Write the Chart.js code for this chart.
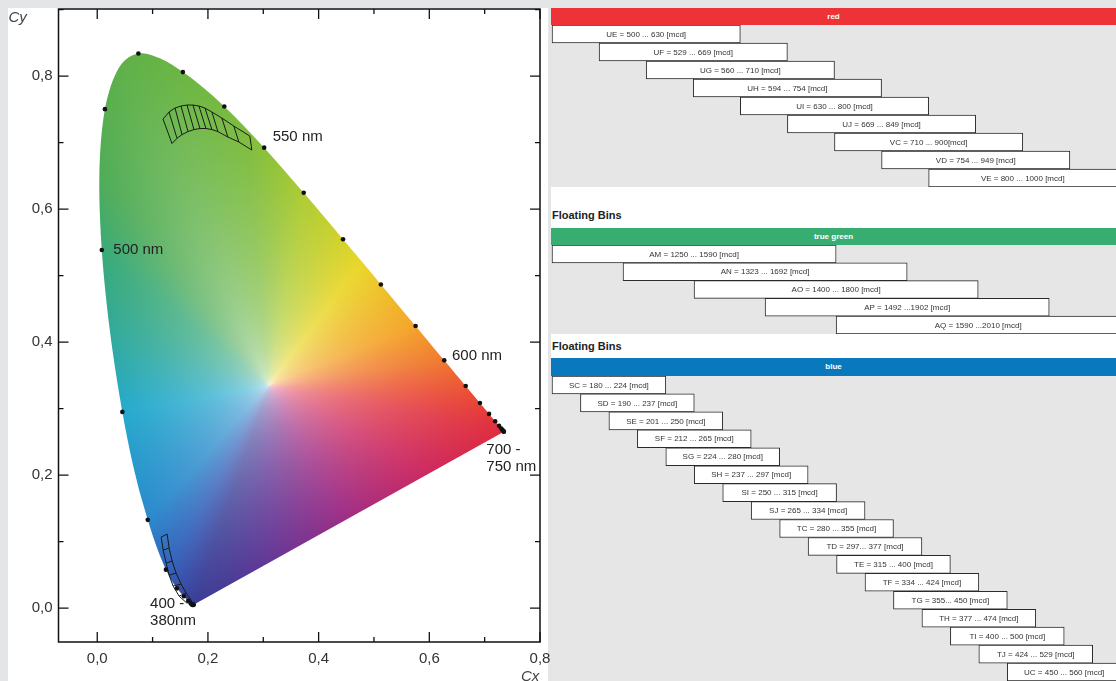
<!DOCTYPE html>
<html>
<head>
<meta charset="utf-8">
<script src="https://cdn.jsdelivr.net/npm/chart.js@4.4.0/dist/chart.umd.min.js"></script>
<style>
  html, body { margin:0; padding:0; }
  body { width:1116px; height:681px; background:#e4e5e7; position:relative; overflow:hidden;
         font-family:"Liberation Sans", Arial, sans-serif; }
  #leftPanel { position:absolute; left:8px; top:8px; width:540px; height:673px; background:#fff; }
  #cieBox { position:absolute; left:0; top:0; width:556px; height:681px; }
  #rightPanel { position:absolute; left:551px; top:8px; width:565px; height:673px; background:#fff; }
  .hdr { position:absolute; left:551px; width:565px; color:#fff; font-weight:bold; font-size:8px; text-align:center; }
  .ttl { position:absolute; left:552px; font-weight:bold; font-size:11px; color:#222; }
  .bins { position:absolute; left:551px; width:565px; }
</style>
</head>
<body>
<div id="leftPanel"></div>
<div id="cieBox"><canvas id="cie"></canvas></div>
<div id="rightPanel"></div>

<div class="hdr" style="top:8px;height:17px;line-height:17px;background:#ee3338;">red</div>
<div class="bins" style="top:25px;height:162px;"><canvas id="redBins"></canvas></div>

<div class="ttl" style="top:209px;">Floating Bins</div>
<div class="hdr" style="top:228px;height:17px;line-height:17px;background:#38ad72;">true green</div>
<div class="bins" style="top:245px;height:89px;"><canvas id="greenBins"></canvas></div>

<div class="ttl" style="top:340px;">Floating Bins</div>
<div class="hdr" style="top:358px;height:18px;line-height:18px;background:#0a78bd;">blue</div>
<div class="bins" style="top:376px;height:305px;"><canvas id="blueBins"></canvas></div>

<script>
// ---- spectral locus (horseshoe edge), 5 nm steps, 380 .. 700 nm
var wavelengths = [380,385,390,395,400,405,410,415,420,425,430,435,440,445,450,455,460,465,470,475,
                   480,485,490,495,500,505,510,515,520,525,530,535,540,545,550,555,560,565,570,575,
                   580,585,590,595,600,605,610,615,620,625,630,635,640,645,650,655,660,665,670,675,
                   680,685,690,695,700];
var locusX = [0.1741,0.1740,0.1738,0.1736,0.1733,0.1730,0.1726,0.1721,0.1714,0.1703,0.1689,0.1669,0.1644,0.1611,0.1566,0.1510,0.1440,0.1355,0.1241,0.1096,
              0.0913,0.0687,0.0454,0.0235,0.0082,0.0039,0.0139,0.0389,0.0743,0.1142,0.1547,0.1929,0.2296,0.2658,0.3016,0.3373,0.3731,0.4087,0.4441,0.4788,
              0.5125,0.5448,0.5752,0.6029,0.6270,0.6482,0.6658,0.6801,0.6915,0.7006,0.7079,0.7140,0.7190,0.7230,0.7260,0.7283,0.7300,0.7311,0.7320,0.7327,
              0.7334,0.7340,0.7344,0.7346,0.7347];
var locusY = [0.0050,0.0050,0.0049,0.0049,0.0048,0.0048,0.0048,0.0048,0.0051,0.0058,0.0069,0.0086,0.0109,0.0138,0.0177,0.0227,0.0297,0.0399,0.0578,0.0868,
              0.1327,0.2007,0.2950,0.4127,0.5384,0.6548,0.7502,0.8120,0.8338,0.8262,0.8059,0.7816,0.7543,0.7243,0.6923,0.6589,0.6245,0.5896,0.5547,0.5202,
              0.4866,0.4544,0.4242,0.3965,0.3725,0.3514,0.3340,0.3197,0.3083,0.2993,0.2920,0.2859,0.2809,0.2770,0.2740,0.2717,0.2700,0.2689,0.2680,0.2673,
              0.2666,0.2660,0.2656,0.2654,0.2653];

// hatched colour bin region, true green (upper and lower edge)
var greenTopX = [0.1189,0.1297,0.1405,0.1514,0.1622,0.1730,0.1838,0.1946,0.2072,0.2252,0.2468,0.2757];
var greenTopY = [0.7353,0.7459,0.7519,0.7549,0.7564,0.7564,0.7549,0.7519,0.7459,0.7368,0.7248,0.7098];
var greenBotX = [0.1351,0.1441,0.1532,0.1640,0.1748,0.1856,0.1964,0.2072,0.2180,0.2360,0.2559,0.2793];
var greenBotY = [0.6985,0.7063,0.7120,0.7165,0.7195,0.7211,0.7211,0.7195,0.7165,0.7083,0.7008,0.6887];

// hatched colour bin region, blue (outer and inner edge)
var blueOutX = [0.1155,0.1191,0.1245,0.1299,0.1371,0.1479,0.1620];
var blueOutY = [0.1068,0.0872,0.0677,0.0496,0.0331,0.0180,0.0075];
var blueInX  = [0.1263,0.1299,0.1353,0.1425,0.1515,0.1606,0.1710];
var blueInY  = [0.1113,0.0902,0.0707,0.0526,0.0361,0.0226,0.0105];

// wavelength captions on the diagram
var noteText = ["550 nm", "500 nm", "600 nm", "700 -", "750 nm", "400 -", "380nm"];
var noteX    = [0.317, 0.029, 0.641, 0.703, 0.703, 0.0955, 0.0955];
var noteY    = [0.708, 0.538, 0.380, 0.238, 0.212, 0.006, -0.0195];

// ---- floating bins
var redSteps = [500,529,560,594,630,669,710,754,800,849,900,949,1000];
var redLabels = ["UE = 500 ... 630 [mcd]","UF = 529 ... 669 [mcd]","UG = 560 ... 710 [mcd]","UH = 594 ... 754 [mcd]",
                 "UI = 630 ... 800 [mcd]","UJ = 669 ... 849 [mcd]","VC = 710 ... 900[mcd]","VD = 754 ... 949 [mcd]","VE = 800 ... 1000 [mcd]"];
var redLo = [500,529,560,594,630,669,710,754,800];
var redHi = [630,669,710,754,800,849,900,949,1000];

var greenSteps = [1250,1323,1400,1492,1590,1692,1800,1902,2010];
var greenLabels = ["AM = 1250 ... 1590 [mcd]","AN = 1323 ... 1692 [mcd]","AO = 1400 ... 1800 [mcd]",
                   "AP = 1492 ...1902 [mcd]","AQ = 1590 ...2010 [mcd]"];
var greenLo = [1250,1323,1400,1492,1590];
var greenHi = [1590,1692,1800,1902,2010];

var blueSteps = [180,190,201,212,224,237,250,265,280,297,315,334,355,377,400,424,450,474,500,529,560];
var blueLabels = ["SC = 180 ... 224 [mcd]","SD = 190 ... 237 [mcd]","SE = 201 ... 250 [mcd]","SF = 212 ... 265 [mcd]",
                  "SG = 224 ... 280 [mcd]","SH = 237 ... 297 [mcd]","SI = 250 ... 315 [mcd]","SJ = 265 ... 334 [mcd]",
                  "TC = 280 ... 355 [mcd]","TD = 297... 377 [mcd]","TE = 315 ... 400 [mcd]","TF = 334 ... 424 [mcd]",
                  "TG = 355... 450 [mcd]","TH = 377 ... 474 [mcd]","TI = 400 ... 500 [mcd]","TJ = 424 ... 529 [mcd]",
                  "UC = 450 ... 560 [mcd]"];
var blueLo = [180,190,201,212,224,237,250,265,280,297,315,334,355,377,400,424,450];
var blueHi = [224,237,250,265,280,297,315,334,355,377,400,424,450,474,500,529,560];

Chart.defaults.font.family = "'Liberation Sans', Arial, sans-serif";
Chart.defaults.color = '#333';

// colours along the edge used to paint the horseshoe (x, y, rgb)
var whitePoint = [0.31, 0.335];
var tint = [
  [0.7347,0.2653,[222,45,62]], [0.6915,0.3083,[232,68,55]], [0.6270,0.3725,[240,122,48]],
  [0.5752,0.4242,[244,165,42]], [0.4788,0.5202,[234,214,42]], [0.3731,0.6245,[175,204,52]],
  [0.2658,0.7243,[125,188,62]], [0.0743,0.8338,[98,178,70]], [0.0039,0.6548,[80,172,88]],
  [0.0082,0.5384,[58,170,120]], [0.0454,0.2950,[38,170,205]], [0.0913,0.1327,[42,138,204]],
  [0.1241,0.0578,[50,100,188]], [0.1566,0.0177,[56,72,164]], [0.1733,0.0048,[58,62,150]],
  [0.303,0.065,[98,56,150]], [0.454,0.135,[160,46,134]], [0.606,0.205,[205,42,96]]
];

// pixel path of the horseshoe, smoothed along the spectral edge
function locusPath(ctx, poly) {
  var n = poly.length;
  ctx.moveTo(poly[0][0], poly[0][1]);
  for (var i = 0; i < n - 1; i++) {
    var p0 = poly[Math.max(i - 1, 0)], p1 = poly[i], p2 = poly[i + 1], p3 = poly[Math.min(i + 2, n - 1)];
    ctx.bezierCurveTo(p1[0] + (p2[0] - p0[0]) / 6, p1[1] + (p2[1] - p0[1]) / 6,
                      p2[0] - (p3[0] - p1[0]) / 6, p2[1] - (p3[1] - p1[1]) / 6, p2[0], p2[1]);
  }
  ctx.closePath();
}

var cieFill = {
  id: 'cieFill',
  beforeDatasetsDraw: function(chart) {
    var xs = chart.scales.x, ys = chart.scales.y, a = chart.chartArea, ctx = chart.ctx;
    var poly = locusX.map(function(v, i) { return [xs.getPixelForValue(v), ys.getPixelForValue(locusY[i])]; });
    var w = [xs.getPixelForValue(whitePoint[0]), ys.getPixelForValue(whitePoint[1])];
    var N = 2048, PI2 = Math.PI * 2;
    var R = new Float32Array(N), C = [];
    var anchors = tint.map(function(t) {
      var px = xs.getPixelForValue(t[0]), py = ys.getPixelForValue(t[1]);
      return { ang: Math.atan2(py - w[1], px - w[0]), c: t[2] };
    }).sort(function(p, q) { return p.ang - q.ang; });
    var n = poly.length;
    for (var k = 0; k < N; k++) {
      var ang = -Math.PI + (k + 0.5) / N * PI2;
      var dx = Math.cos(ang), dy = Math.sin(ang), best = 1e9;
      for (var i = 0; i < n; i++) {
        var p1 = poly[i], p2 = poly[(i + 1) % n];
        var ex = p2[0] - p1[0], ey = p2[1] - p1[1];
        var den = dx * ey - dy * ex;
        if (Math.abs(den) < 1e-9) continue;
        var qx = p1[0] - w[0], qy = p1[1] - w[1];
        var t = (qx * ey - qy * ex) / den, u = (qx * dy - qy * dx) / den;
        if (t > 0 && u >= 0 && u <= 1 && t < best) best = t;
      }
      R[k] = best;
      var j = 0;
      while (j < anchors.length && anchors[j].ang < ang) j++;
      var nx = anchors[j % anchors.length], pv = anchors[(j - 1 + anchors.length) % anchors.length];
      var span = (nx.ang - pv.ang + PI2) % PI2, d = (ang - pv.ang + PI2) % PI2;
      var f = span > 0 ? d / span : 0;
      C.push([pv.c[0] + (nx.c[0] - pv.c[0]) * f, pv.c[1] + (nx.c[1] - pv.c[1]) * f, pv.c[2] + (nx.c[2] - pv.c[2]) * f]);
    }
    var W = Math.ceil(a.right - a.left), H = Math.ceil(a.bottom - a.top);
    var off = document.createElement('canvas'); off.width = W; off.height = H;
    var octx = off.getContext('2d'), img = octx.createImageData(W, H), px = img.data;
    for (var y = 0; y < H; y++) {
      for (var x = 0; x < W; x++) {
        var X = a.left + x + 0.5 - w[0], Y = a.top + y + 0.5 - w[1];
        var kk = Math.floor((Math.atan2(Y, X) + Math.PI) / PI2 * N);
        if (kk >= N) kk = N - 1; if (kk < 0) kk = 0;
        var s = Math.sqrt(X * X + Y * Y) / R[kk]; if (s > 1) s = 1;
        var g = Math.pow(s, 0.32), c = C[kk], o = (y * W + x) * 4;
        px[o] = 255 + (c[0] - 255) * g; px[o + 1] = 255 + (c[1] - 255) * g; px[o + 2] = 255 + (c[2] - 255) * g; px[o + 3] = 255;
      }
    }
    octx.putImageData(img, 0, 0);
    ctx.save();
    ctx.beginPath();
    locusPath(ctx, poly);
    ctx.clip();
    ctx.drawImage(off, a.left, a.top);
    ctx.restore();
  }
};

// frame with inward ticks on all four sides, captions
var cieFrame = {
  id: 'cieFrame',
  afterDraw: function(chart) {
    var a = chart.chartArea, ctx = chart.ctx, xs = chart.scales.x, ys = chart.scales.y;
    ctx.save();
    ctx.strokeStyle = '#111';
    ctx.lineWidth = 1.5;
    ctx.strokeRect(a.left, a.top, a.right - a.left, a.bottom - a.top);
    ctx.lineWidth = 1.3;
    ctx.beginPath();
    xs.ticks.forEach(function(t) {
      var p = xs.getPixelForValue(t.value), len = t.label ? 10 : 5;
      ctx.moveTo(p, a.bottom); ctx.lineTo(p, a.bottom - len);
      ctx.moveTo(p, a.top); ctx.lineTo(p, a.top + len);
    });
    ys.ticks.forEach(function(t) {
      var p = ys.getPixelForValue(t.value), len = t.label ? 10 : 5;
      ctx.moveTo(a.left, p); ctx.lineTo(a.left + len, p);
      ctx.moveTo(a.right, p); ctx.lineTo(a.right - len, p);
    });
    ctx.stroke();

    ctx.fillStyle = '#222';
    ctx.font = "15px 'Liberation Sans', Arial, sans-serif";
    ctx.textAlign = 'left';
    ctx.textBaseline = 'middle';
    noteText.forEach(function(txt, i) {
      ctx.fillText(txt, xs.getPixelForValue(noteX[i]), ys.getPixelForValue(noteY[i]));
    });
    ctx.font = "italic 15px 'Liberation Sans', Arial, sans-serif";
    ctx.fillStyle = '#444';
    ctx.fillText('Cy', a.left - 50, a.top + 9);
    ctx.fillText('Cx', a.right - 19, a.bottom + 35);
    ctx.restore();
  }
};

function commaTick(v) {
  return Math.round(v * 10) % 2 === 0 ? v.toFixed(1).replace('.', ',') : '';
}

var dotX = [], dotY = [];
wavelengths.forEach(function(wl, i) {
  if (wl % 10 === 0) { dotX.push(locusX[i]); dotY.push(locusY[i]); }
});

function pts(xa, ya) { return xa.map(function(v, i) { return { x: v, y: ya[i] }; }); }
function lineSet(data) {
  return { data: data, showLine: true, fill: false, borderColor: '#1a1a1a', borderWidth: 1, pointRadius: 0, tension: 0 };
}

var cieSets = [
  { data: pts(dotX, dotY), pointRadius: 2.3, pointBackgroundColor: '#111', pointBorderWidth: 0, showLine: false },
  lineSet(pts(greenTopX, greenTopY)),
  lineSet(pts(greenBotX, greenBotY)),
  lineSet(pts(blueOutX, blueOutY)),
  lineSet(pts(blueInX, blueInY))
];
greenTopX.forEach(function(v, i) {
  cieSets.push(lineSet([{ x: v, y: greenTopY[i] }, { x: greenBotX[i], y: greenBotY[i] }]));
});
blueOutX.forEach(function(v, i) {
  cieSets.push(lineSet([{ x: v, y: blueOutY[i] }, { x: blueInX[i], y: blueInY[i] }]));
});

new Chart(document.getElementById('cie'), {
  type: 'scatter',
  data: { datasets: cieSets },
  options: {
    responsive: true, maintainAspectRatio: false, animation: false,
    layout: { padding: { top: 9, right: 16, left: 0, bottom: 0 } },
    scales: {
      x: {
        type: 'linear', min: -0.07, max: 0.8,
        afterFit: function(s) { s.height = 39; s.paddingLeft = 0; s.paddingRight = 0; },
        grid: { display: false, drawTicks: false }, border: { display: false },
        ticks: { stepSize: 0.1, includeBounds: false, autoSkip: false, maxRotation: 0, padding: 8,
                 color: '#333', font: { size: 15 }, callback: commaTick }
      },
      y: {
        type: 'linear', min: -0.051, max: 0.9008,
        afterFit: function(s) { s.width = 58.5; s.paddingTop = 0; s.paddingBottom = 0; },
        grid: { display: false, drawTicks: false }, border: { display: false },
        ticks: { stepSize: 0.1, includeBounds: false, autoSkip: false, padding: 6,
                 color: '#333', font: { size: 15 }, callback: commaTick }
      }
    },
    plugins: { legend: { display: false }, tooltip: { enabled: false } }
  },
  plugins: [cieFill, cieFrame]
});

// ---- bin tables
var binBg = {
  id: 'binBg',
  beforeDraw: function(chart) {
    var a = chart.chartArea, ctx = chart.ctx;
    ctx.save(); ctx.fillStyle = '#e6e6e6';
    ctx.fillRect(a.left, a.top, a.right - a.left, a.bottom - a.top);
    ctx.restore();
  }
};
var binText = {
  id: 'binText',
  afterDatasetsDraw: function(chart) {
    var ctx = chart.ctx, meta = chart.getDatasetMeta(0);
    ctx.save();
    ctx.fillStyle = '#333';
    ctx.font = "8px 'Liberation Sans', Arial, sans-serif";
    ctx.textAlign = 'center'; ctx.textBaseline = 'middle';
    meta.data.forEach(function(bar, i) {
      ctx.fillText(chart.data.labels[i], (bar.base + bar.x) / 2, bar.y + 0.5);
    });
    ctx.restore();
  }
};

function makeBins(id, labels, lo, hi, steps, minStep, maxStep) {
  var spans = lo.map(function(v, i) { return [steps.indexOf(v), steps.indexOf(hi[i])]; });
  return new Chart(document.getElementById(id), {
    type: 'bar',
    data: { labels: labels, datasets: [{
      data: spans, backgroundColor: '#fff', borderColor: '#2b2b2b', borderWidth: 1,
      borderSkipped: false, barPercentage: 1, categoryPercentage: 1
    }] },
    options: {
      indexAxis: 'y', responsive: true, maintainAspectRatio: false, animation: false,
      layout: { padding: 0 },
      scales: { x: { type: 'linear', display: false, min: minStep, max: maxStep }, y: { display: false } },
      plugins: { legend: { display: false }, tooltip: { enabled: false } }
    },
    plugins: [binBg, binText]
  });
}

makeBins('redBins', redLabels, redLo, redHi, redSteps, -0.022, 11.98);
makeBins('greenBins', greenLabels, greenLo, greenHi, greenSteps, -0.014, 7.94);
makeBins('blueBins', blueLabels, blueLo, blueHi, blueSteps, -0.035, 19.82);
</script>
</body>
</html>
